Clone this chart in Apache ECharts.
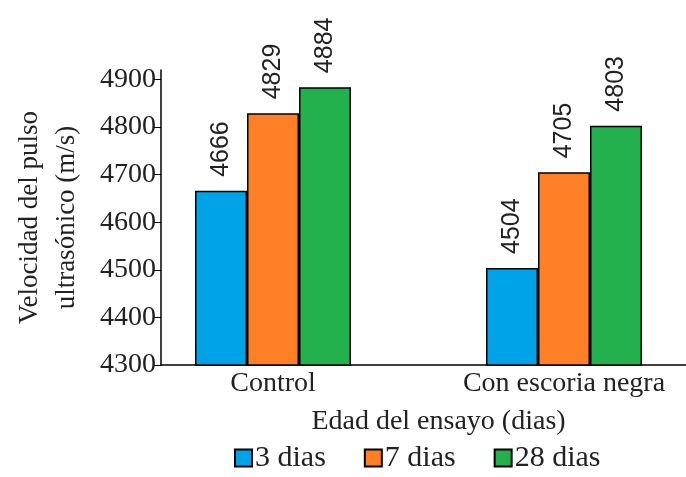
<!DOCTYPE html>
<html>
<head>
<meta charset="utf-8">
<script src="https://cdn.jsdelivr.net/npm/echarts@6/dist/echarts.min.js"></script>
<style>
    html, body { margin: 0; padding: 0; background: #fff; }
    #chart { width: 686px; height: 477px; }
</style>
</head>
<body>
<div id="chart"></div>
<script>
var categories = ["Control", "Con escoria negra"];
var seriesNames = ["3 dias", "7 dias", "28 dias"];
var dias3 = [4666, 4504];
var dias7 = [4829, 4705];
var dias28 = [4884, 4803];
var yTicks = [4300, 4400, 4500, 4600, 4700, 4800, 4900];
var yTop = 4920; // axis line runs a little past the last tick

var colors = ["#00A2E8", "#FF7F27", "#22B14C"];
var serif = "Liberation Serif";

var myChart = echarts.init(document.getElementById("chart"));

function makeSeries(name, data, color) {
    return {
        name: name,
        type: 'bar',
        xAxisIndex: 1,
        yAxisIndex: 1,
        data: data,
        barGap: '0%',
        barWidth: 52,
        itemStyle: {
            color: color,
            borderColor: '#000',
            borderWidth: 1.5
        },
        label: {
            show: true,
            position: 'top',
            rotate: 90,
            align: 'left',
            verticalAlign: 'middle',
            distance: 14,
            fontFamily: 'Liberation Sans',
            fontSize: 25,
            color: '#222'
        }
    };
}

var option = {
    animation: false,
    backgroundColor: '#fff',
    grid: [
        { left: 161, right: 0, top: 70, bottom: 112 },
        // bar groups sit on the points of this one
        { left: 273, width: 291, top: 70, bottom: 112 }
    ],
    legend: {
        top: 438,
        left: 229,
        itemWidth: 17,
        itemHeight: 17,
        itemGap: 38,
        icon: 'rect',
        textStyle: { fontFamily: serif, fontSize: 30, color: '#222', padding: [0, 0, 0, -2] },
        data: seriesNames
    },
    xAxis: [
        {
            type: 'category',
            gridIndex: 0,
            data: categories,
            axisLine: { lineStyle: { color: '#000', width: 1.5 } },
            axisTick: { show: false },
            axisLabel: { show: false }
        },
        {
            type: 'category',
            gridIndex: 1,
            data: categories,
            boundaryGap: false,
            axisLine: { show: false },
            axisTick: { show: false },
            axisLabel: { fontFamily: serif, fontSize: 28, color: '#222', margin: 5 },
            name: 'Edad del ensayo (dias)',
            nameLocation: 'middle',
            nameGap: 43,
            nameTextStyle: { fontFamily: serif, fontSize: 28, color: '#222', padding: [0, 0, 0, 40] }
        }
    ],
    yAxis: [
        {
            type: 'value',
            gridIndex: 0,
            min: yTicks[0],
            max: yTop,
            splitLine: { show: false },
            axisLine: { show: true, lineStyle: { color: '#000', width: 1.5 } },
            axisTick: { show: true, length: 7, customValues: yTicks, lineStyle: { color: '#000' } },
            axisLabel: {
                fontFamily: serif, fontSize: 28, color: '#222', margin: 5,
                customValues: yTicks,
                formatter: function (v) { return String(v); }
            },
            name: 'Velocidad del pulso\nultrasónico (m/s)',
            nameLocation: 'middle',
            nameGap: 76,
            nameTextStyle: { fontFamily: serif, fontSize: 27, color: '#222', lineHeight: 37 }
        },
        {
            type: 'value',
            gridIndex: 1,
            min: yTicks[0],
            max: yTop,
            show: false
        }
    ],
    series: [
        makeSeries(seriesNames[0], dias3, colors[0]),
        makeSeries(seriesNames[1], dias7, colors[1]),
        makeSeries(seriesNames[2], dias28, colors[2])
    ]
};

if (option && typeof option === "object") {
    myChart.setOption(option, true);
}
</script>
</body>
</html>
